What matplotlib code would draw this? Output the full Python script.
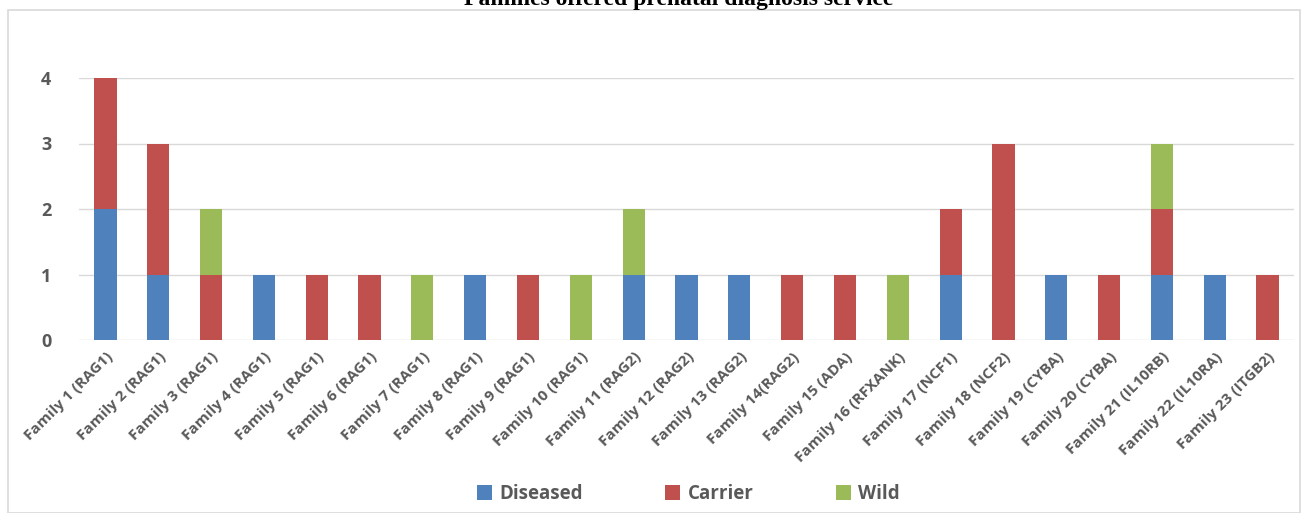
import numpy as np
import matplotlib
matplotlib.use('Agg')
import matplotlib.pyplot as plt
from matplotlib.patches import Rectangle

families = ['Family 1 (RAG1)', 'Family 2 (RAG1)', 'Family 3 (RAG1)', 'Family 4 (RAG1)',
            'Family 5 (RAG1)', 'Family 6 (RAG1)', 'Family 7 (RAG1)', 'Family 8 (RAG1)',
            'Family 9 (RAG1)', 'Family 10 (RAG1)', 'Family 11 (RAG2)', 'Family 12 (RAG2)',
            'Family 13 (RAG2)', 'Family 14(RAG2)', 'Family 15 (ADA)', 'Family 16 (RFXANK)',
            'Family 17 (NCF1)', 'Family 18 (NCF2)', 'Family 19 (CYBA)', 'Family 20 (CYBA)',
            'Family 21 (IL10RB)', 'Family 22 (IL10RA)', 'Family 23 (ITGB2)']
diseased = [2, 1, 0, 1, 0, 0, 0, 1, 0, 0, 1, 1, 1, 0, 0, 0, 1, 0, 1, 0, 1, 1, 0]
carrier = [2, 2, 1, 0, 1, 1, 0, 0, 1, 0, 0, 0, 0, 1, 1, 0, 1, 3, 0, 1, 1, 0, 1]
wild = [0, 0, 1, 0, 0, 0, 1, 0, 0, 1, 1, 0, 0, 0, 0, 1, 0, 0, 0, 0, 1, 0, 0]

colors = {'Diseased': '#4F81BD', 'Carrier': '#C0504D', 'Wild': '#9BBB59'}
grey = '#595959'

fig = plt.figure(figsize=(13.06, 5.13), dpi=100)
ax = fig.add_axes([79 / 1306, 1 - 340 / 513, (1294 - 79) / 1306, (340 - 78) / 513])

x = np.arange(len(families))
d = np.array(diseased)
c = np.array(carrier)
w = np.array(wild)
bw = 0.42
ax.bar(x, d, bw, color=colors['Diseased'], label='Diseased', zorder=3)
ax.bar(x, c, bw, bottom=d, color=colors['Carrier'], label='Carrier', zorder=3)
ax.bar(x, w, bw, bottom=d + c, color=colors['Wild'], label='Wild', zorder=3)

ax.set_xlim(-0.5, len(families) - 0.5)
ax.set_ylim(0, 4)
ax.set_yticks([0, 1, 2, 3, 4])
ax.yaxis.grid(True, color='#d9d9d9', linewidth=1, zorder=0)
for s in ax.spines.values():
    s.set_visible(False)
ax.tick_params(axis='both', length=0)
ax.tick_params(axis='y', pad=20)
ax.set_yticklabels(['0', '1', '2', '3', '4'], fontsize=13, fontweight='bold',
                   color=grey, family='Open Sans')
ax.set_xticks(x)
ax.set_xticklabels(families, rotation=45, ha='right', rotation_mode='anchor',
                   fontsize=11, fontweight='bold', color=grey, family='Open Sans')
ax.tick_params(axis='x', pad=7)

leg = fig.legend(loc='center', bbox_to_anchor=(0.527, 1 - 494 / 513), ncol=3, frameon=False,
                 handlelength=0.8, handleheight=0.8, columnspacing=4.4, handletextpad=0.4,
                 prop={'family': 'Open Sans', 'weight': 'bold', 'size': 13.5})
for t in leg.get_texts():
    t.set_color(grey)

fig.patches.append(Rectangle((8 / 1306, 0), (1300 - 8) / 1306, 1 - 10 / 513,
                             transform=fig.transFigure, fill=False,
                             edgecolor='#d9d9d9', linewidth=1.2))

fig.text(0.52, 1 - 5 / 513, 'Families offered prenatal diagnosis service', ha='center',
         va='baseline', fontsize=17, fontweight='bold', family='Liberation Serif')

fig.savefig('out.png', dpi=100)
